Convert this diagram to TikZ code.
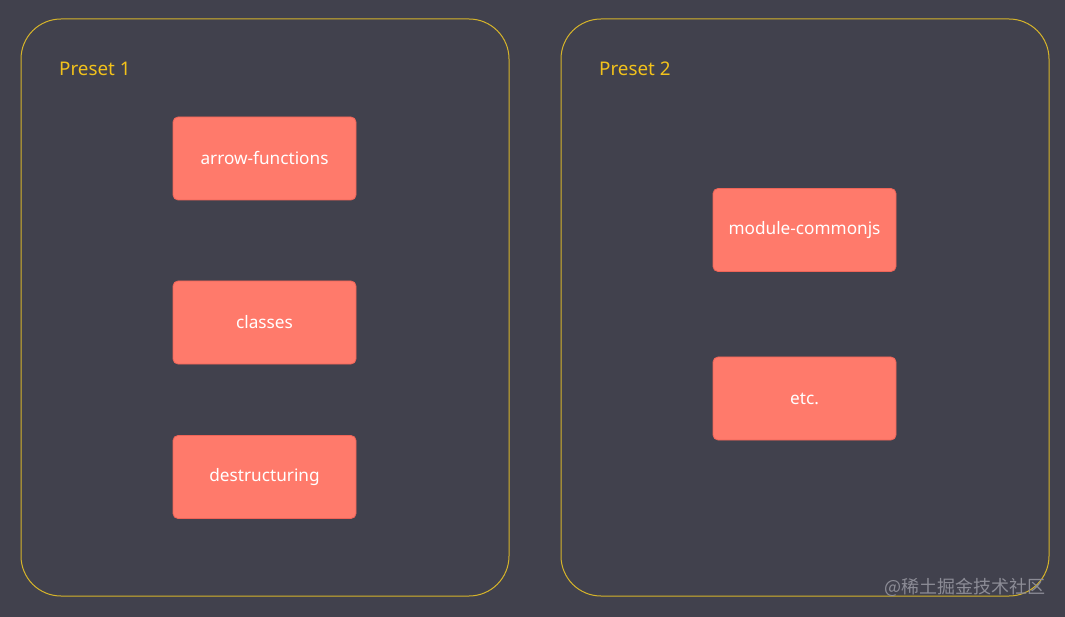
\documentclass[tikz,border=0pt]{standalone}
\usepackage{fontspec}
\setmainfont{Noto Sans}
\newfontfamily\cjkfont{Noto Sans CJK SC}
\definecolor{bg}{HTML}{41414D}
\definecolor{frame}{HTML}{D6B42A}
\definecolor{lbl}{HTML}{F2C21B}
\definecolor{boxfill}{HTML}{FF7A6B}
\definecolor{boxline}{HTML}{EE6458}
\definecolor{wm}{HTML}{8C8C96}
\begin{document}
\begin{tikzpicture}[x=1pt,y=-1pt,
  preset/.style={draw=frame, line width=1pt, rounded corners=40pt},
  plugin/.style={draw=boxline, fill=boxfill, line width=0.8pt, rounded corners=5pt,
    minimum width=183pt, minimum height=83pt, inner sep=0pt,
    text=white, font=\fontsize{17.2}{20}\selectfont},
  title/.style={text=lbl, font=\fontsize{18.8}{22}\selectfont, anchor=west, inner sep=0pt},
]
\fill[bg] (0,0) rectangle (1065,617);
\useasboundingbox (0,0) rectangle (1065,617);
\draw[preset] (21,19) rectangle (509,596);
\draw[preset] (561,19) rectangle (1049,596);
\node[title] (p1) at (59,69) {Preset 1};
\node[title] (p2) at (599,69) {Preset 2};
\node[plugin] (af) at (264.5,158.5) {arrow-functions};
\node[plugin] (cl) at (264.5,322.5) {classes};
\node[plugin] (de) at (264.5,477) {destructuring};
\node[plugin] (mc) at (804.5,230) {module-commonjs};
\node[plugin] (etc) at (804.5,398.5) {etc.};
\node[text=wm, font=\cjkfont\fontsize{18}{21}\selectfont, anchor=east, inner sep=0pt] (wmk) at (1046,587) {@稀土掘金技术社区};
\end{tikzpicture}
\end{document}
